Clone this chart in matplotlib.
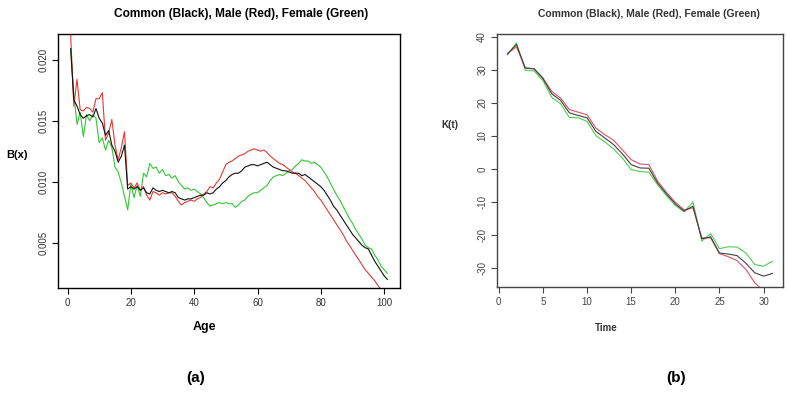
import numpy as np
import matplotlib.pyplot as plt

plt.rcParams['font.family'] = ['Liberation Sans', 'DejaVu Sans']

# (a) B(x) by age, plotted at 1..101
age = np.arange(1, 102)
bx_common = [0.0209, 0.0167, 0.0162, 0.0155, 0.0152, 0.0154, 0.0155, 0.0153, 0.0160, 0.0152,
             0.0148, 0.0138, 0.0142, 0.0130, 0.0125, 0.0116, 0.0121, 0.0130, 0.0094, 0.0096,
             0.0094, 0.0096, 0.0093, 0.0095, 0.0091, 0.0090, 0.0095, 0.0093, 0.0092, 0.0093,
             0.0092, 0.0091, 0.0092, 0.0091, 0.0087, 0.0086, 0.0085, 0.0086, 0.0086, 0.0087,
             0.0088, 0.0089, 0.0089, 0.0091, 0.0090, 0.0091, 0.0094, 0.0096, 0.0099, 0.0101,
             0.0104, 0.0106, 0.0107, 0.0107, 0.0109, 0.0112, 0.0113, 0.0114, 0.0114, 0.0113,
             0.0114, 0.0115, 0.0116, 0.0114, 0.0112, 0.0111, 0.0110, 0.0109, 0.0109, 0.0108,
             0.0107, 0.0107, 0.0107, 0.0105, 0.0106, 0.0104, 0.0102, 0.0100, 0.0098, 0.0096,
             0.0093, 0.0089, 0.0085, 0.0080, 0.0077, 0.0073, 0.0069, 0.0065, 0.0061, 0.0057,
             0.0054, 0.0051, 0.0048, 0.0046, 0.0045, 0.0040, 0.0035, 0.0031, 0.0027, 0.0023,
             0.0020]
bx_male = [0.0220, 0.0162, 0.0184, 0.0159, 0.0158, 0.0161, 0.0160, 0.0157, 0.0168, 0.0168,
           0.0173, 0.0134, 0.0140, 0.0151, 0.0130, 0.0118, 0.0128, 0.0141, 0.0097, 0.0099,
           0.0095, 0.0099, 0.0093, 0.0096, 0.0089, 0.0085, 0.0092, 0.0091, 0.0089, 0.0091,
           0.0090, 0.0091, 0.0091, 0.0088, 0.0084, 0.0081, 0.0083, 0.0084, 0.0085, 0.0084,
           0.0086, 0.0087, 0.0090, 0.0092, 0.0096, 0.0095, 0.0099, 0.0102, 0.0108, 0.0114,
           0.0116, 0.0117, 0.0119, 0.0121, 0.0122, 0.0123, 0.0125, 0.0126, 0.0127, 0.0126,
           0.0125, 0.0126, 0.0124, 0.0121, 0.0119, 0.0117, 0.0115, 0.0114, 0.0112, 0.0110,
           0.0108, 0.0107, 0.0105, 0.0103, 0.0101, 0.0098, 0.0095, 0.0092, 0.0088, 0.0085,
           0.0081, 0.0077, 0.0073, 0.0069, 0.0065, 0.0061, 0.0057, 0.0052, 0.0048, 0.0044,
           0.0040, 0.0036, 0.0032, 0.0028, 0.0025, 0.0022, 0.0019, 0.0015, 0.0012, 0.0009,
           0.0006]
bx_female = [0.0208, 0.0172, 0.0147, 0.0157, 0.0137, 0.0155, 0.0150, 0.0155, 0.0152, 0.0132,
             0.0136, 0.0126, 0.0134, 0.0128, 0.0112, 0.0108, 0.0099, 0.0088, 0.0077, 0.0098,
             0.0087, 0.0097, 0.0088, 0.0107, 0.0104, 0.0115, 0.0111, 0.0112, 0.0107, 0.0110,
             0.0105, 0.0106, 0.0103, 0.0105, 0.0100, 0.0097, 0.0094, 0.0095, 0.0093, 0.0094,
             0.0092, 0.0090, 0.0087, 0.0083, 0.0080, 0.0081, 0.0082, 0.0083, 0.0082, 0.0083,
             0.0082, 0.0082, 0.0079, 0.0081, 0.0084, 0.0085, 0.0088, 0.0090, 0.0091, 0.0091,
             0.0093, 0.0095, 0.0097, 0.0101, 0.0104, 0.0105, 0.0106, 0.0105, 0.0107, 0.0109,
             0.0110, 0.0113, 0.0115, 0.0118, 0.0117, 0.0117, 0.0115, 0.0116, 0.0114, 0.0112,
             0.0108, 0.0104, 0.0099, 0.0094, 0.0089, 0.0085, 0.0080, 0.0075, 0.0070, 0.0066,
             0.0061, 0.0057, 0.0053, 0.0048, 0.0046, 0.0045, 0.0040, 0.0036, 0.0031, 0.0028,
             0.0025]

# (b) K(t) by time
time = np.arange(1, 32)
kt_common = [34.9, 37.7, 30.6, 30.3, 27.4, 22.8, 20.8, 17.0, 16.2, 15.5,
             11.4, 9.4, 7.4, 4.6, 1.3, 0.3, 0.2, -4.3, -7.6, -10.6,
             -12.8, -11.3, -21.2, -20.6, -25.5, -25.8, -26.3, -28.6, -31.5, -32.5,
             -31.7]
kt_male = [35.0, 37.0, 30.6, 30.4, 27.6, 23.5, 21.5, 18.0, 17.2, 16.4,
           12.4, 10.4, 8.7, 5.8, 2.8, 1.5, 1.3, -3.7, -7.1, -10.1,
           -12.4, -11.8, -20.9, -20.9, -25.7, -26.6, -27.8, -30.5, -34.5, -37.0,
           -38.0]
kt_female = [34.6, 38.2, 29.9, 29.7, 26.8, 21.7, 19.8, 15.6, 15.5, 14.4,
             10.1, 8.2, 6.1, 3.3, -0.2, -0.8, -1.0, -4.8, -8.1, -11.1,
             -13.0, -10.0, -21.9, -19.6, -24.2, -23.6, -23.7, -25.5, -29.0, -29.5,
             -28.0]

title = 'Common (Black), Male (Red), Female (Green)'

fig = plt.figure(figsize=(7.87, 4.12), dpi=100)
W, H = 787, 412

# left panel
ax1 = fig.add_axes([58 / W, 1 - 288 / H, 342 / W, 254 / H])
ax1.plot(age, bx_female, color='#33c633', lw=0.8)
ax1.plot(age, bx_male, color='#e23a32', lw=0.8)
ax1.plot(age, bx_common, color='#111111', lw=0.8)
ax1.set_xlim(-3, 105)
ax1.set_ylim(0.0013, 0.0221)
ax1.set_xticks([0, 20, 40, 60, 80, 100])
ax1.set_yticks([0.005, 0.010, 0.015, 0.020])
ax1.set_yticklabels(['0.005', '0.010', '0.015', '0.020'], rotation=90, va='center')
ax1.tick_params(direction='out', length=4, width=0.8, labelsize=7, pad=3,
                labelcolor='#333333')
for s in ax1.spines.values():
    s.set_linewidth(1.0)

# right panel
ax2 = fig.add_axes([497 / W, 1 - 287 / H, 286 / W, 253 / H])
ax2.plot(time, kt_female, color='#4ccf4c', lw=0.8)
ax2.plot(time, kt_male, color='#e0506a', lw=0.8)
ax2.plot(time, kt_common, color='#404040', lw=0.8)
ax2.set_xlim(-0.2, 32.2)
ax2.set_ylim(-35.8, 40.9)
ax2.set_xticks([0, 5, 10, 15, 20, 25, 30])
ax2.set_yticks([-30, -20, -10, 0, 10, 20, 30, 40])
ax2.set_yticklabels(['-30', '-20', '-10', '0', '10', '20', '30', '40'], rotation=90, va='center')
ax2.tick_params(direction='out', length=4, width=0.8, labelsize=7, pad=3,
                colors='#444444')
for s in ax2.spines.values():
    s.set_linewidth(1.0)
    s.set_color('#444444')

# titles and labels
fig.text(241 / W, 1 - 14 / H, title, ha='center', va='center', fontsize=8.6, fontweight='bold')
fig.text(649 / W, 1 - 14 / H, title, ha='center', va='center', fontsize=7.5,
         fontweight='bold', color='#333333')
fig.text(17 / W, 1 - 155 / H, 'B(x)', ha='center', va='center', fontsize=8, fontweight='bold')
fig.text(450 / W, 1 - 125 / H, 'K(t)', ha='center', va='center', fontsize=7,
         fontweight='bold', color='#333333')
fig.text(204 / W, 1 - 327 / H, 'Age', ha='center', va='center', fontsize=9, fontweight='bold')
fig.text(606 / W, 1 - 328 / H, 'Time', ha='center', va='center', fontsize=7,
         fontweight='bold', color='#333333')
fig.text(196 / W, 1 - 378 / H, '(a)', ha='center', va='center', fontsize=11, fontweight='bold')
fig.text(676 / W, 1 - 378 / H, '(b)', ha='center', va='center', fontsize=11, fontweight='bold')

fig.savefig('out.png', dpi=100)
